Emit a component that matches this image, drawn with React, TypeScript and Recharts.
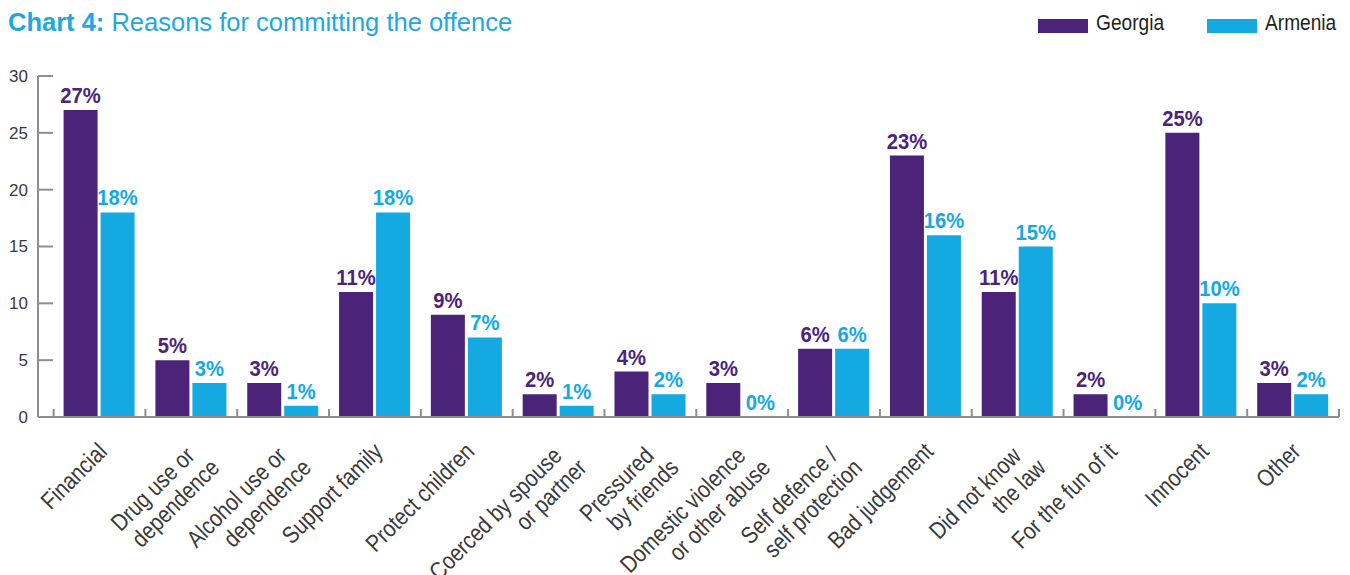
import React from "react";
import { Bar, BarChart, LabelList, Legend, XAxis, YAxis } from "recharts";

const categories = [
  "Financial",
  "Drug use or\ndependence",
  "Alcohol use or\ndependence",
  "Support family",
  "Protect children",
  "Coerced by spouse\nor partner",
  "Pressured\nby friends",
  "Domestic violence\nor other abuse",
  "Self defence /\nself protection",
  "Bad judgement",
  "Did not know\nthe law",
  "For the fun of it",
  "Innocent",
  "Other",
];

const georgia = [27, 5, 3, 11, 9, 2, 4, 3, 6, 23, 11, 2, 25, 3];
const armenia = [18, 3, 1, 18, 7, 1, 2, 0, 6, 16, 15, 0, 10, 2];
const yTicks = [0, 5, 10, 15, 20, 25, 30];

const series = [
  { key: "georgia", name: "Georgia", color: "#4b2479" },
  { key: "armenia", name: "Armenia", color: "#15a9e1" },
];

const data = categories.map((name, i) => ({ name, georgia: georgia[i], armenia: armenia[i] }));

// no condensed Helvetica here, so Liberation Sans squeezed sideways
const SANS = "'Liberation Sans', Arial, sans-serif";
const SQUEEZE = 0.85;
const AXIS = "#8e8e8e";
const TEXT = "#3a3a3a";

const W = 1350;
const H = 575;
const LEFT = 38;
const RIGHT_M = 11;
const PAD_L = 15.6;
const PAD_R = 0;
const BAND = (W - RIGHT_M - LEFT - PAD_L - PAD_R) / categories.length;

function XTick(props: any) {
  const { x, y, payload, index } = props;
  const lines = String(payload.value).split("\n");
  const ax = x + 9;
  const ay = y + 36;
  return (
    <g>
      {index === 0 && (
        <line x1={x - BAND / 2} x2={x - BAND / 2} y1={y} y2={y - 8} stroke={AXIS} strokeWidth={2} />
      )}
      <line x1={x + BAND / 2} x2={x + BAND / 2} y1={y} y2={y - 8} stroke={AXIS} strokeWidth={2} />
      <g transform={`translate(${ax} ${ay}) rotate(-45) scale(${SQUEEZE} 1)`}>
        <text textAnchor="end" fill={TEXT} fontSize={24} fontFamily={SANS}>
          {lines.length === 1 ? (
            <tspan x={0} y={0}>{lines[0]}</tspan>
          ) : (
            <>
              <tspan x={-6 / SQUEEZE} y={0}>{lines[0]}</tspan>
              <tspan x={3 / SQUEEZE} y={26}>{lines[1]}</tspan>
            </>
          )}
        </text>
      </g>
    </g>
  );
}

function YTick(props: any) {
  const { x, y, payload } = props;
  return (
    <g>
      <line x1={x} x2={x + 15} y1={y} y2={y} stroke={AXIS} strokeWidth={2} />
      <text x={x - 10} y={y} dy="0.35em" textAnchor="end" fill={TEXT} fontSize={17} fontFamily={SANS}>
        {payload.value}
      </text>
    </g>
  );
}

function valueLabel(color: string) {
  return (props: any) => {
    const { x, y, width, value } = props;
    if (value == null) return null;
    return (
      <g transform={`translate(${Number(x) + Number(width) / 2} ${Number(y) - 7}) scale(0.92 1)`}>
        <text textAnchor="middle" fill={color} fontSize={22} fontWeight="bold" fontFamily={SANS}>
          {`${value}%`}
        </text>
      </g>
    );
  };
}

function LegendContent() {
  return (
    <div style={{ display: "flex" }}>
      {series.map((s) => (
        <div key={s.key} style={{ width: 169, flexShrink: 0, display: "flex", alignItems: "flex-start" }}>
          <span
            style={{ width: 50, height: 14, marginTop: 7, marginRight: 8, background: s.color, display: "inline-block", flexShrink: 0 }}
          />
          <span
            style={{
              fontSize: 22.5,
              lineHeight: "22px",
              fontFamily: SANS,
              color: "#231f20",
              display: "inline-block",
              whiteSpace: "nowrap",
              transform: `scaleX(${SQUEEZE})`,
              transformOrigin: "left",
            }}
          >
            {s.name}
          </span>
        </div>
      ))}
    </div>
  );
}

export default function App() {
  return (
    <div style={{ position: "absolute", left: 0, top: 0, width: W, height: H, background: "#fff" }}>
      <div
        style={{
          position: "absolute",
          left: 8,
          top: 10.4,
          fontFamily: SANS,
          fontSize: 25.5,
          lineHeight: "25.5px",
          color: "#1ba9e1",
          whiteSpace: "nowrap",
        }}
      >
        <b>Chart 4:</b> Reasons for committing the offence
      </div>
      <BarChart
        width={W}
        height={H}
        data={data}
        margin={{ top: 76, right: RIGHT_M, bottom: 0, left: 0 }}
        barSize={34}
        barGap={3}
      >
        <Legend
          layout="horizontal"
          verticalAlign="middle"
          align="center"
          content={LegendContent}
          wrapperStyle={{ left: 1038, top: 12, width: 340 }}
        />
        <XAxis
          dataKey="name"
          height={158}
          interval={0}
          padding={{ left: PAD_L, right: PAD_R }}
          tickSize={0}
          tickMargin={0}
          tick={XTick}
          axisLine={{ stroke: AXIS, strokeWidth: 2 }}
        />
        <YAxis
          width={LEFT}
          domain={[0, 30]}
          ticks={yTicks}
          tickSize={0}
          tickMargin={0}
          tick={YTick}
          axisLine={{ stroke: AXIS, strokeWidth: 2 }}
        />
        {series.map((s) => (
          <Bar
            key={s.key}
            dataKey={s.key}
            name={s.name}
            fill={s.color}
            minPointSize={(v: number) => (v === 0 ? 0.01 : 0)}
            isAnimationActive={false}
          >
            <LabelList dataKey={s.key} position="top" content={valueLabel(s.color)} />
          </Bar>
        ))}
      </BarChart>
    </div>
  );
}
